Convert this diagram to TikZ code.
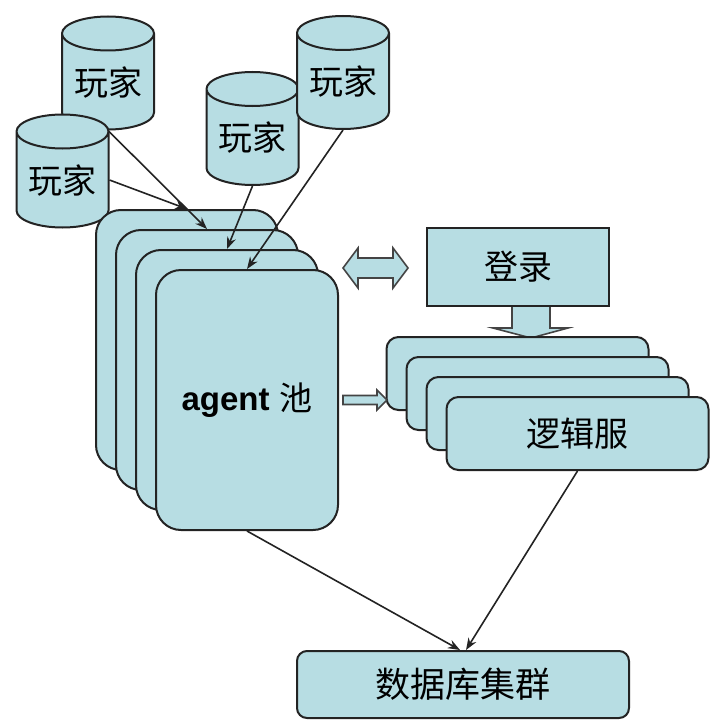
\documentclass[tikz,border=0pt]{standalone}
\usepackage{fontspec}
\usepackage{tikz}
\usetikzlibrary{shapes.geometric,arrows.meta}
\newfontfamily\cjk{Noto Sans CJK SC}
\newfontfamily\arialfont{Liberation Sans}
\definecolor{boxfill}{RGB}{183,221,227}
\definecolor{edgec}{RGB}{35,35,35}

\begin{document}
\begin{tikzpicture}[x=1pt, y=-1pt, >={Stealth[length=12pt,width=9pt]},
player/.style={cylinder, shape border rotate=90, aspect=0.5, draw=edgec, line width=2pt, fill=boxfill, minimum width=92pt, minimum height=113pt, inner sep=0pt, font=\cjk\fontsize{34}{38}\selectfont},
agentbox/.style={rectangle, rounded corners=25pt, draw=edgec, line width=2pt, fill=boxfill, minimum width=182pt, minimum height=260pt},
logicbox/.style={rectangle, rounded corners=12pt, draw=edgec, line width=2pt, fill=boxfill, minimum width=262pt, minimum height=73pt, font=\cjk\fontsize{34}{40}\selectfont},
loginbox/.style={rectangle, draw=edgec, line width=2pt, fill=boxfill, minimum width=182pt, minimum height=78pt, font=\cjk\fontsize{34}{40}\selectfont},
dbbox/.style={rectangle, rounded corners=10pt, draw=edgec, line width=2pt, fill=boxfill, minimum width=332pt, minimum height=67pt, font=\cjk\fontsize{35}{40}\selectfont},
blockarrow/.style={draw=edgec!85, line width=1.6pt, fill=boxfill},
link/.style={->, draw=edgec, line width=1.6pt}
]
\fill[white] (0,0) rectangle (720,725);
\useasboundingbox (0,0) rectangle (720,725);
%Nodes
\node[player]    (plA)    at (108,82)         {玩家};
\node[player]    (plB)    at (62.5,180)       {玩家};
\node[player]    (plC)    at (252.5,137.5)    {玩家};
\node[player]    (plD)    at (343,81.5)       {玩家};
\node[agentbox]  (ag1)    at (187,340)        {};
\node[agentbox]  (ag2)    at ([shift={(20,20)}]ag1) {};
\node[agentbox]  (ag3)    at ([shift={(20,20)}]ag2) {};
\node[agentbox]  (ag4)    at ([shift={(20,20)}]ag3) {\fontsize{33}{38}\selectfont{\arialfont\bfseries agent} \cjk 池};
%Block arrows
\draw[blockarrow] (512,300) -- (550,300) -- (550,328) -- (568,328) -- (531,338) -- (493,328) -- (512,328) -- cycle;
\node[loginbox]  (login)  at (518,267)        {登录};
\node[logicbox]  (lg1)    at (517.5,373.5)    {};
\node[logicbox]  (lg2)    at ([shift={(20,20)}]lg1) {};
\node[logicbox]  (lg3)    at ([shift={(20,20)}]lg2) {};
\node[logicbox]  (lg4)    at ([shift={(20,20)}]lg3) {逻辑服};
\node[dbbox]     (db)     at (463,684.5)      {数据库集群};
\draw[blockarrow] (343,268) -- (358,248) -- (358,258) -- (393,258) -- (393,248) -- (408,268) -- (393,288) -- (393,278) -- (358,278) -- (358,288) -- cycle;
\draw[blockarrow] (343,395.5) -- (377,395.5) -- (377,390) -- (387,400) -- (377,410) -- (377,404.5) -- (343,404.5) -- cycle;
%Lines
\draw[link] (plA.south) -- (ag2.north);
\draw[link] (plB.east)  -- (ag1.north);
\draw[link] (plC.south) -- (ag3.north);
\draw[link] (plD.south) -- (ag4.north);
\draw[link] (ag4.south) -- ([xshift=-3pt]db.north);
\draw[link] (lg4.south) -- ([xshift=3pt]db.north);
\end{tikzpicture}
\end{document}
